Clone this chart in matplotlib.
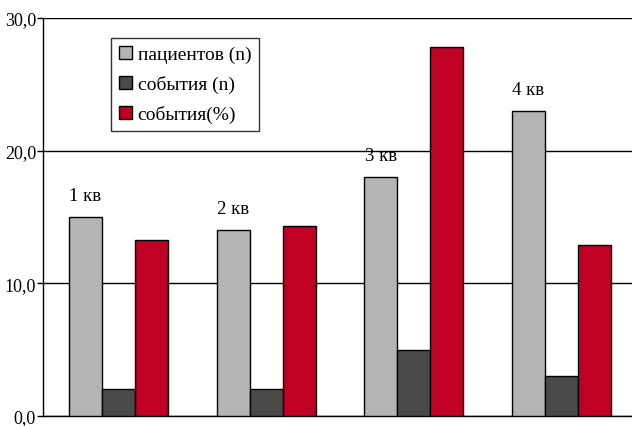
import matplotlib
matplotlib.use("Agg")
import matplotlib.pyplot as plt
import numpy as np

quarters = ["1 кв", "2 кв", "3 кв", "4 кв"]
patients_n = [15.0, 14.0, 18.0, 23.0]
events_n = [2.0, 2.0, 5.0, 3.0]
events_pct = [13.3, 14.3, 27.8, 12.9]
series_names = ["пациентов (n)", "события (n)", "события(%)"]
yticks = [0, 10, 20, 30]

plt.rcParams['font.family'] = ['Liberation Serif', 'DejaVu Serif']

fig = plt.figure(figsize=(6.32, 4.27), dpi=100)
ax = fig.add_axes([0.068, 0.0234, 0.932, 0.932])

x = np.arange(len(quarters))
w = 0.224
colors = ["#b4b4b4", "#4a4a4a", "#c00025"]
data = [patients_n, events_n, events_pct]
for i, (vals, c, name) in enumerate(zip(data, colors, series_names)):
    ax.bar(x + (i - 1) * w, vals, width=w, color=c, edgecolor="black",
           linewidth=1.0, label=name, zorder=3)

for xi, v, q in zip(x, patients_n, quarters):
    ax.text(xi - w, v + 1.0, q, ha="center", va="bottom", fontsize=13.5)

ax.set_ylim(0, 30)
ax.set_xlim(-0.512, 3.478)
ax.set_yticks(yticks)
ax.set_yticklabels([f"{t:.1f}".replace(".", ",") for t in yticks], fontsize=13)
ax.set_xticks([])
ax.yaxis.grid(True, color="black", linewidth=1.0, zorder=0)
for s in ["top", "right"]:
    ax.spines[s].set_visible(False)
ax.spines["left"].set_linewidth(1.0)
ax.spines["bottom"].set_linewidth(1.0)
ax.tick_params(axis="y", length=4, width=1.0, pad=1)

leg = ax.legend(loc="upper left", bbox_to_anchor=(0.1155, 0.950), borderaxespad=0,
                fontsize=14, frameon=True, fancybox=False, edgecolor="black",
                handlelength=0.67, handleheight=0.67, handletextpad=0.3,
                labelspacing=0.62, borderpad=0.4)
leg.get_frame().set_linewidth(1.0)

fig.savefig("out.png", dpi=100)
